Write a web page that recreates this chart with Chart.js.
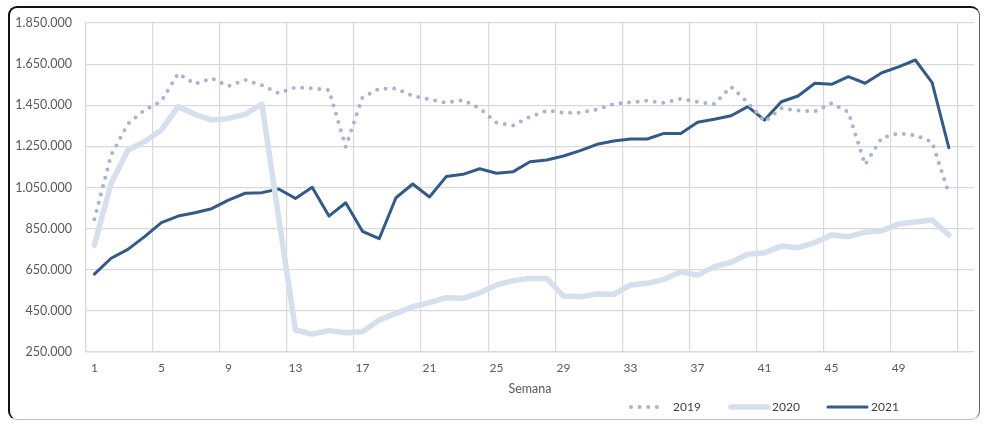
<!DOCTYPE html>
<html>
<head>
<meta charset="utf-8">
<script src="https://cdn.jsdelivr.net/npm/chart.js@4/dist/chart.umd.min.js"></script>
<style>
  html, body { margin: 0; padding: 0; background: #ffffff; }
  #wrap { position: relative; width: 984px; height: 425px; overflow: hidden; }
  #frame {
    position: absolute; left: 8px; top: 6px; width: 972px; height: 414px;
    border-top: 2px solid #111; border-left: 2px solid #111;
    border-right: 1.5px solid #666; border-bottom: 1px solid #bbb;
    border-radius: 9px; box-sizing: border-box; pointer-events: none;
  }
  canvas { position: absolute; left: 0; top: 0; }
</style>
</head>
<body>
<div id="wrap">
  <canvas id="c" width="984" height="425"></canvas>
  <div id="frame"></div>
</div>
<script>
// Semanas 1..53 (la semana 53 queda sin datos)
const weeks = Array.from({ length: 53 }, (_, i) => String(i + 1));

const y2019 = [
  895000, 1208000, 1359000, 1427000, 1470000, 1605000, 1553000, 1581000, 1543000, 1573000,
  1547000, 1508000, 1537000, 1532000, 1524000, 1248000, 1488000, 1530000, 1532000, 1495000,
  1479000, 1462000, 1475000, 1435000, 1365000, 1352000, 1394000, 1424000, 1414000, 1414000,
  1430000, 1456000, 1464000, 1472000, 1462000, 1482000, 1466000, 1456000, 1540000, 1463000,
  1370000, 1435000, 1424000, 1420000, 1460000, 1417000, 1161000, 1292000, 1313000, 1304000,
  1271000, 1020000
];

const y2020 = [
  770000, 1070000, 1232000, 1273000, 1330000, 1443000, 1406000, 1378000, 1386000, 1406000,
  1456000, 903000, 357000, 337000, 354000, 344000, 349000, 406000, 438000, 470000,
  490000, 514000, 511000, 538000, 576000, 597000, 608000, 608000, 522000, 519000,
  532000, 531000, 576000, 584000, 603000, 640000, 624000, 665000, 686000, 725000,
  733000, 765000, 757000, 782000, 819000, 811000, 832000, 840000, 872000, 882000,
  892000, 819000
];

const y2021 = [
  629000, 706000, 749000, 811000, 879000, 911000, 927000, 947000, 989000, 1022000,
  1025000, 1043000, 997000, 1051000, 911000, 976000, 837000, 801000, 1000000, 1067000,
  1004000, 1103000, 1114000, 1141000, 1119000, 1127000, 1175000, 1184000, 1203000, 1229000,
  1260000, 1276000, 1286000, 1286000, 1313000, 1313000, 1367000, 1382000, 1399000, 1443000,
  1378000, 1467000, 1495000, 1557000, 1552000, 1589000, 1557000, 1608000, 1637000, 1670000,
  1560000, 1243000
];

const yMin = 250000, yMax = 1850000, yStep = 200000;
const FONT = 'Lato, "Open Sans", "Liberation Sans", sans-serif';

const fmt = v => String(Math.round(v)).replace(/\B(?=(\d{3})+(?!\d))/g, '.');

// Leyenda dibujada bajo el eje
const legendPlugin = {
  id: 'bottomLegend',
  afterDraw(chart) {
    const ctx = chart.ctx;
    const ds = chart.data.datasets;
    const y = 407;
    const items = [
      { i: 0, x0: 631, x1: 662, tx: 673 },
      { i: 1, x0: 731, x1: 768, tx: 772 },
      { i: 2, x0: 828, x1: 867, tx: 871 }
    ];
    ctx.save();
    items.forEach(it => {
      const d = ds[it.i];
      ctx.beginPath();
      ctx.strokeStyle = d.borderColor;
      ctx.lineWidth = d.borderWidth;
      ctx.lineCap = d.borderCapStyle || 'butt';
      ctx.setLineDash(d.borderDash || []);
      ctx.moveTo(it.x0, y);
      ctx.lineTo(it.x1, y);
      ctx.stroke();
      ctx.setLineDash([]);
      ctx.fillStyle = '#404040';
      ctx.font = '12px ' + FONT;
      ctx.textBaseline = 'middle';
      ctx.textAlign = 'left';
      ctx.fillText(d.label, it.tx, y + 0.5);
    });
    ctx.restore();
  }
};

new Chart(document.getElementById('c'), {
  type: 'line',
  data: {
    labels: weeks,
    datasets: [
      {
        label: '2019', data: y2019,
        borderColor: '#a6b4d0', borderWidth: 4, borderDash: [0, 8.6], borderCapStyle: 'round',
        pointRadius: 0, tension: 0, fill: false
      },
      {
        label: '2020', data: y2020,
        borderColor: '#d5dfed', borderWidth: 5.5, borderCapStyle: 'round', borderJoinStyle: 'round',
        pointRadius: 0, tension: 0, fill: false
      },
      {
        label: '2021', data: y2021,
        borderColor: '#345a88', borderWidth: 3, borderCapStyle: 'round', borderJoinStyle: 'round',
        pointRadius: 0, tension: 0, fill: false
      }
    ]
  },
  options: {
    responsive: false,
    animation: false,
    events: [],
    layout: { padding: { left: 0, top: 23, right: 10, bottom: 29 } },
    plugins: { legend: { display: false }, tooltip: { enabled: false } },
    scales: {
      x: {
        type: 'category',
        offset: true,
        grid: {
          offset: true,
          drawTicks: false,
          lineWidth: 1.2,
          color: c => (c.index !== undefined && c.index % 4 === 0) ? '#d9d9d9' : 'rgba(0,0,0,0)'
        },
        border: { display: true, color: '#d9d9d9', width: 1.2 },
        ticks: {
          autoSkip: false, maxRotation: 0, padding: 9,
          color: '#595959', font: { family: FONT, size: 12 },
          callback: function (v, i) { return (i % 4 === 0 && i < 52) ? this.getLabelForValue(v) : ''; }
        },
        title: {
          display: true, text: 'Semana', color: '#595959',
          font: { family: FONT, size: 12.5 }, padding: { top: 2, bottom: 0 }
        },
        afterFit: s => { s.height = 44; }
      },
      y: {
        min: yMin, max: yMax,
        grid: { drawTicks: false, color: '#d9d9d9', lineWidth: 1.2 },
        border: { display: true, color: '#d9d9d9', width: 1.2 },
        ticks: {
          stepSize: yStep, padding: 14,
          color: '#595959', font: { family: FONT, size: 12.5 },
          callback: v => fmt(v)
        },
        afterFit: s => { s.width = 86; }
      }
    }
  },
  plugins: [legendPlugin]
});
</script>
</body>
</html>
